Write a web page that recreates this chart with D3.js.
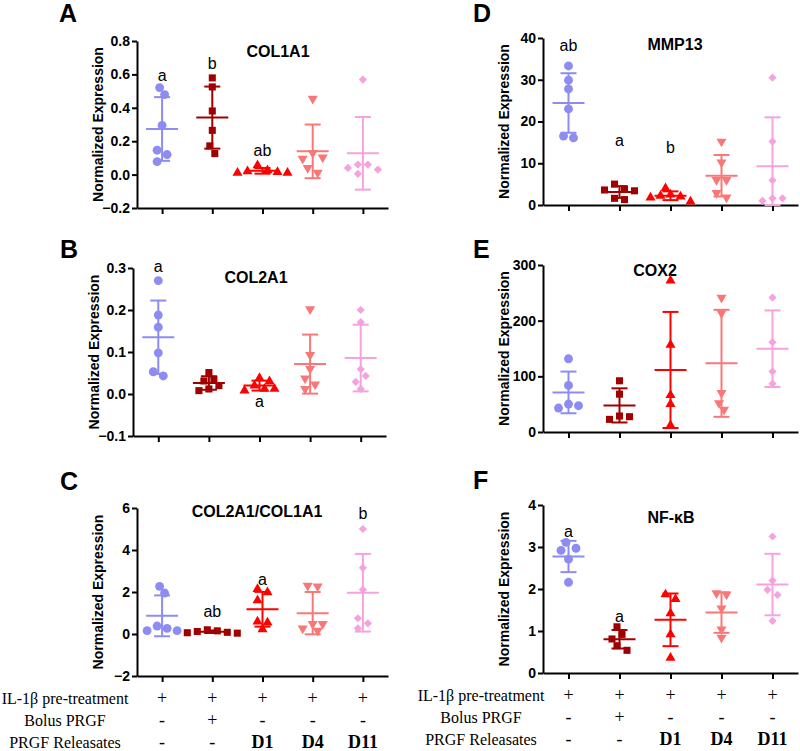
<!DOCTYPE html>
<html><head><meta charset="utf-8">
<script src="https://cdn.jsdelivr.net/npm/d3@7"></script>
<style>body{margin:0;background:#fff}</style>
</head><body><svg id="c" width="800" height="751"></svg>
<script>
// ---------------- DATA ----------------
const groups = ["IL-1β", "IL-1β + Bolus PRGF", "D1", "D4", "D11"];

const col1a1 = [
  [0.521, 0.479, 0.295, 0.146, 0.120, 0.078],
  [0.579, 0.525, 0.381, 0.265, 0.172, 0.126],
  [0.055, 0.025, 0.020, 0.015, 0.010, 0.010],
  [0.455, 0.130, 0.103, 0.095, 0.040, 0.012],
  [0.569, 0.060, 0.060, 0.040, 0.030, 0.005]
];
const col2a1 = [
  [0.270, 0.188, 0.159, 0.098, 0.053, 0.043],
  [0.051, 0.035, 0.031, 0.020, 0.012, 0.008],
  [0.038, 0.030, 0.020, 0.012, 0.012, 0.008],
  [0.202, 0.093, 0.060, 0.037, 0.023, 0.012],
  [0.200, 0.171, 0.059, 0.043, 0.029, 0.012]
];
const ratio = [
  [2.27, 1.95, 0.38, 0.27, 0.16, 0.16],
  [0.20, 0.15, 0.12, 0.08, 0.06, 0.04],
  [2.14, 1.98, 1.60, 0.59, 0.54, 0.22],
  [2.30, 2.27, 0.48, 0.48, 0.27, 0.16],
  [5.00, 3.15, 2.11, 0.75, 0.51, 0.27]
];
const mmp13 = [
  [33.3, 29.9, 27.8, 23.0, 16.5, 16.1],
  [5.0, 3.8, 3.6, 3.4, 1.6, 1.3],
  [4.0, 2.5, 2.2, 2.0, 1.8, 0.8],
  [15.2, 10.2, 6.0, 6.0, 2.9, 1.8],
  [30.5, 15.2, 5.9, 1.6, 1.6, 1.0]
];
const cox2 = [
  [131.5, 83.7, 50.2, 47.2, 43.0],
  [92.0, 68.0, 28.7, 27.5, 22.7],
  [272.0, 156.6, 66.3, 50.2, 12.0],
  [241.5, 213.4, 70.0, 52.0, 40.0],
  [241.5, 161.4, 108.8, 86.7]
];
const nfkb = [
  [3.11, 2.97, 2.92, 2.71, 2.16],
  [1.10, 0.92, 0.81, 0.65, 0.54],
  [1.87, 1.76, 1.42, 0.92, 0.36],
  [1.90, 1.87, 1.54, 1.04, 0.84],
  [3.25, 2.20, 1.98, 1.86, 1.24]
];

const ticksA = [-0.2, 0.0, 0.2, 0.4, 0.6, 0.8];
const ticksB = [-0.1, 0.0, 0.1, 0.2, 0.3];
const ticksC = [-2, 0, 2, 4, 6];
const ticksD = [0, 10, 20, 30, 40];
const ticksE = [0, 100, 200, 300];
const ticksF = [0, 1, 2, 3, 4];

// significance letters: [group index, text, y value (baseline, data units)]
const sigA = [[0, "a", 0.561], [1, "b", 0.633], [2, "ab", 0.113]];
const sigB = [[0, "a", 0.291], [2, "a", -0.031]];
const sigC = [[1, "ab", 0.81], [2, "a", 2.33], [4, "b", 5.48]];
const sigD = [[0, "ab", 36.9], [1, "a", 14.1], [2, "b", 12.5]];
const sigE = [];
const sigF = [[0, "a", 3.24], [1, "a", 1.21]];

const rowLabels = ["IL-1β pre-treatment", "Bolus PRGF", "PRGF Releasates"];
const rowIL1 = ["+", "+", "+", "+", "+"];
const rowBolus = ["-", "+", "-", "-", "-"];
const rowRel = ["-", "-", "D1", "D4", "D11"];

// ---------------- STYLE / LAYOUT ----------------
const colors = ["#8c8cf2", "#a00000", "#ff0000", "#f87878", "#f6a2df"];
const SANS = "'Liberation Sans', Arial, Helvetica, sans-serif";
const SERIF = "'Liberation Serif', 'Times New Roman', serif";

const panels = [
  {id:"A", name:"COL1A1", data:col1a1, ticks:ticksA, fmt:d3.format(".1f"), sig:sigA,
   left:137, top:41, bottom:208, right:388, letter:[59,22], title:[278,57]},
  {id:"B", name:"COL2A1", data:col2a1, ticks:ticksB, fmt:d3.format(".1f"), sig:sigB,
   left:133, top:268, bottom:436, right:386, letter:[60,258], title:[256,283]},
  {id:"C", name:"COL2A1/COL1A1", data:ratio, ticks:ticksC, fmt:d3.format("d"), sig:sigC,
   left:137, top:508, bottom:676, right:388, letter:[60,490], title:[257,517]},
  {id:"D", name:"MMP13", data:mmp13, ticks:ticksD, fmt:d3.format("d"), sig:sigD,
   left:543, top:38, bottom:205, right:798, letter:[473,22], title:[675,50]},
  {id:"E", name:"COX2", data:cox2, ticks:ticksE, fmt:d3.format("d"), sig:sigE,
   left:543, top:265, bottom:432, right:798, letter:[473,258], title:[655,276]},
  {id:"F", name:"NF-κB", data:nfkb, ticks:ticksF, fmt:d3.format("d"), sig:sigF,
   left:543, top:505, bottom:673, right:798, letter:[473,489], title:[671,523]}
];

const svg = d3.select("#c");

function symbolPath(g) {
  if (g === 0) return d3.symbol(d3.symbolCircle, 62)();
  if (g === 1) return d3.symbol(d3.symbolSquare, 50)();
  if (g === 2 || g === 3) return d3.symbol(d3.symbolTriangle, 44)();
  return d3.symbol(d3.symbolSquare, 34)();
}
function symbolRot(g) { return g === 3 ? 180 : (g === 4 ? 45 : 0); }

function swarm(vals, y) {
  const order = d3.range(vals.length).sort((a, b) => vals[b] - vals[a]);
  const off = new Array(vals.length).fill(0);
  const D = 8;
  const clusters = [];
  let cur = [order[0]];
  for (let k = 1; k < order.length; k++) {
    const i = order[k], p = order[k - 1];
    if (Math.abs(y(vals[i]) - y(vals[p])) < D) cur.push(i);
    else { clusters.push(cur); cur = [i]; }
  }
  clusters.push(cur);
  const cands = [0, 5, -5, 10, -10, 15, -15, 20, -20, 25, -25, 30, -30];
  clusters.forEach(cl => {
    const placed = [];
    cl.forEach(i => {
      const yi = y(vals[i]);
      for (const c of cands) {
        if (placed.every(([xx, yy]) => Math.hypot(xx - c, yy - yi) >= D)) {
          off[i] = c; placed.push([c, yi]); break;
        }
      }
    });
    const xs = placed.map(p => p[0]);
    const mid = (d3.min(xs) + d3.max(xs)) / 2;
    cl.forEach(i => off[i] -= mid);
  });
  return off;
}

const xScales = {};

panels.forEach(P => {
  const g = svg.append("g");
  const x = d3.scalePoint().domain(d3.range(groups.length)).range([P.left, P.right]).padding(0.5);
  xScales[P.id] = x;
  const dom = [d3.min(P.ticks), d3.max(P.ticks)];
  const y = d3.scaleLinear().domain(dom).range([P.bottom, P.top]);
  const yc = v => y(Math.max(dom[0], Math.min(dom[1], v)));

  // axes
  const ya = g.append("g").attr("transform", `translate(${P.left},0)`)
    .call(d3.axisLeft(y).tickValues(P.ticks).tickFormat(P.fmt).tickSize(5).tickSizeOuter(0).tickPadding(2));
  const xa = g.append("g").attr("transform", `translate(0,${P.bottom})`)
    .call(d3.axisBottom(x).tickSize(6).tickSizeOuter(0).tickFormat(""));
  [ya, xa].forEach(a => {
    a.selectAll("path.domain").attr("stroke", "#000").attr("stroke-width", 2);
    a.selectAll(".tick line").attr("stroke", "#000").attr("stroke-width", 2);
  });
  ya.selectAll(".tick text").attr("font-family", SANS).attr("font-weight", "bold")
    .attr("font-size", 14).attr("fill", "#000");

  // y label
  g.append("text").attr("transform", `translate(${P.left - 39},${(P.top + P.bottom) / 2}) rotate(-90)`)
    .attr("text-anchor", "middle").attr("dominant-baseline", "central")
    .attr("font-family", SANS).attr("font-weight", "bold").attr("font-size", 14)
    .text("Normalized Expression");

  // panel letter
  g.append("text").attr("x", P.letter[0]).attr("y", P.letter[1])
    .attr("font-family", SANS).attr("font-weight", "bold").attr("font-size", 25).text(P.id);
  // gene title
  g.append("text").attr("x", P.title[0]).attr("y", P.title[1]).attr("text-anchor", "middle")
    .attr("font-family", SANS).attr("font-weight", "bold").attr("font-size", 16).text(P.name);

  // error bars + points
  P.data.forEach((vals, gi) => {
    const cx = x(gi);
    const m = d3.mean(vals), sd = d3.deviation(vals);
    const col = colors[gi];
    const eg = g.append("g").attr("stroke", col).attr("stroke-width", 2).attr("fill", "none");
    eg.append("line").attr("x1", cx).attr("x2", cx).attr("y1", yc(m - sd)).attr("y2", yc(m + sd));
    eg.append("line").attr("x1", cx - 8).attr("x2", cx + 8).attr("y1", yc(m + sd)).attr("y2", yc(m + sd));
    eg.append("line").attr("x1", cx - 8).attr("x2", cx + 8).attr("y1", yc(m - sd)).attr("y2", yc(m - sd));
    eg.append("line").attr("x1", cx - 16).attr("x2", cx + 16).attr("y1", y(m)).attr("y2", y(m));

    const off = swarm(vals, y);
    g.append("g").selectAll("path").data(vals).join("path")
      .attr("d", symbolPath(gi))
      .attr("transform", (v, i) => `translate(${cx + off[i]},${y(v)}) rotate(${symbolRot(gi)})`)
      .attr("fill", col);
  });

  // significance letters
  P.sig.forEach(([gi, t, v]) => {
    g.append("text").attr("x", x(gi)).attr("y", y(v)).attr("text-anchor", "middle")
      .attr("font-family", SANS).attr("font-size", 16).attr("fill", "#000").text(t);
  });
});

// ---------------- treatment table ----------------
function table(xs, labelX, baselines) {
  const rows = [rowIL1, rowBolus, rowRel];
  const g = svg.append("g");
  rows.forEach((row, r) => {
    g.append("text").attr("x", labelX).attr("y", baselines[r]).attr("text-anchor", "middle")
      .attr("font-family", SERIF).attr("font-size", 16).text(rowLabels[r]);
    row.forEach((s, gi) => {
      const bold = s.startsWith("D");
      g.append("text").attr("x", xs(gi)).attr("y", baselines[r]).attr("text-anchor", "middle")
        .attr("font-family", SERIF).attr("font-size", 18)
        .attr("font-weight", bold ? "bold" : "normal").text(s);
    });
  });
}
table(xScales.C, 65, [704, 726, 748]);
table(xScales.F, 481, [701, 723, 745]);
</script>
</body></html>
